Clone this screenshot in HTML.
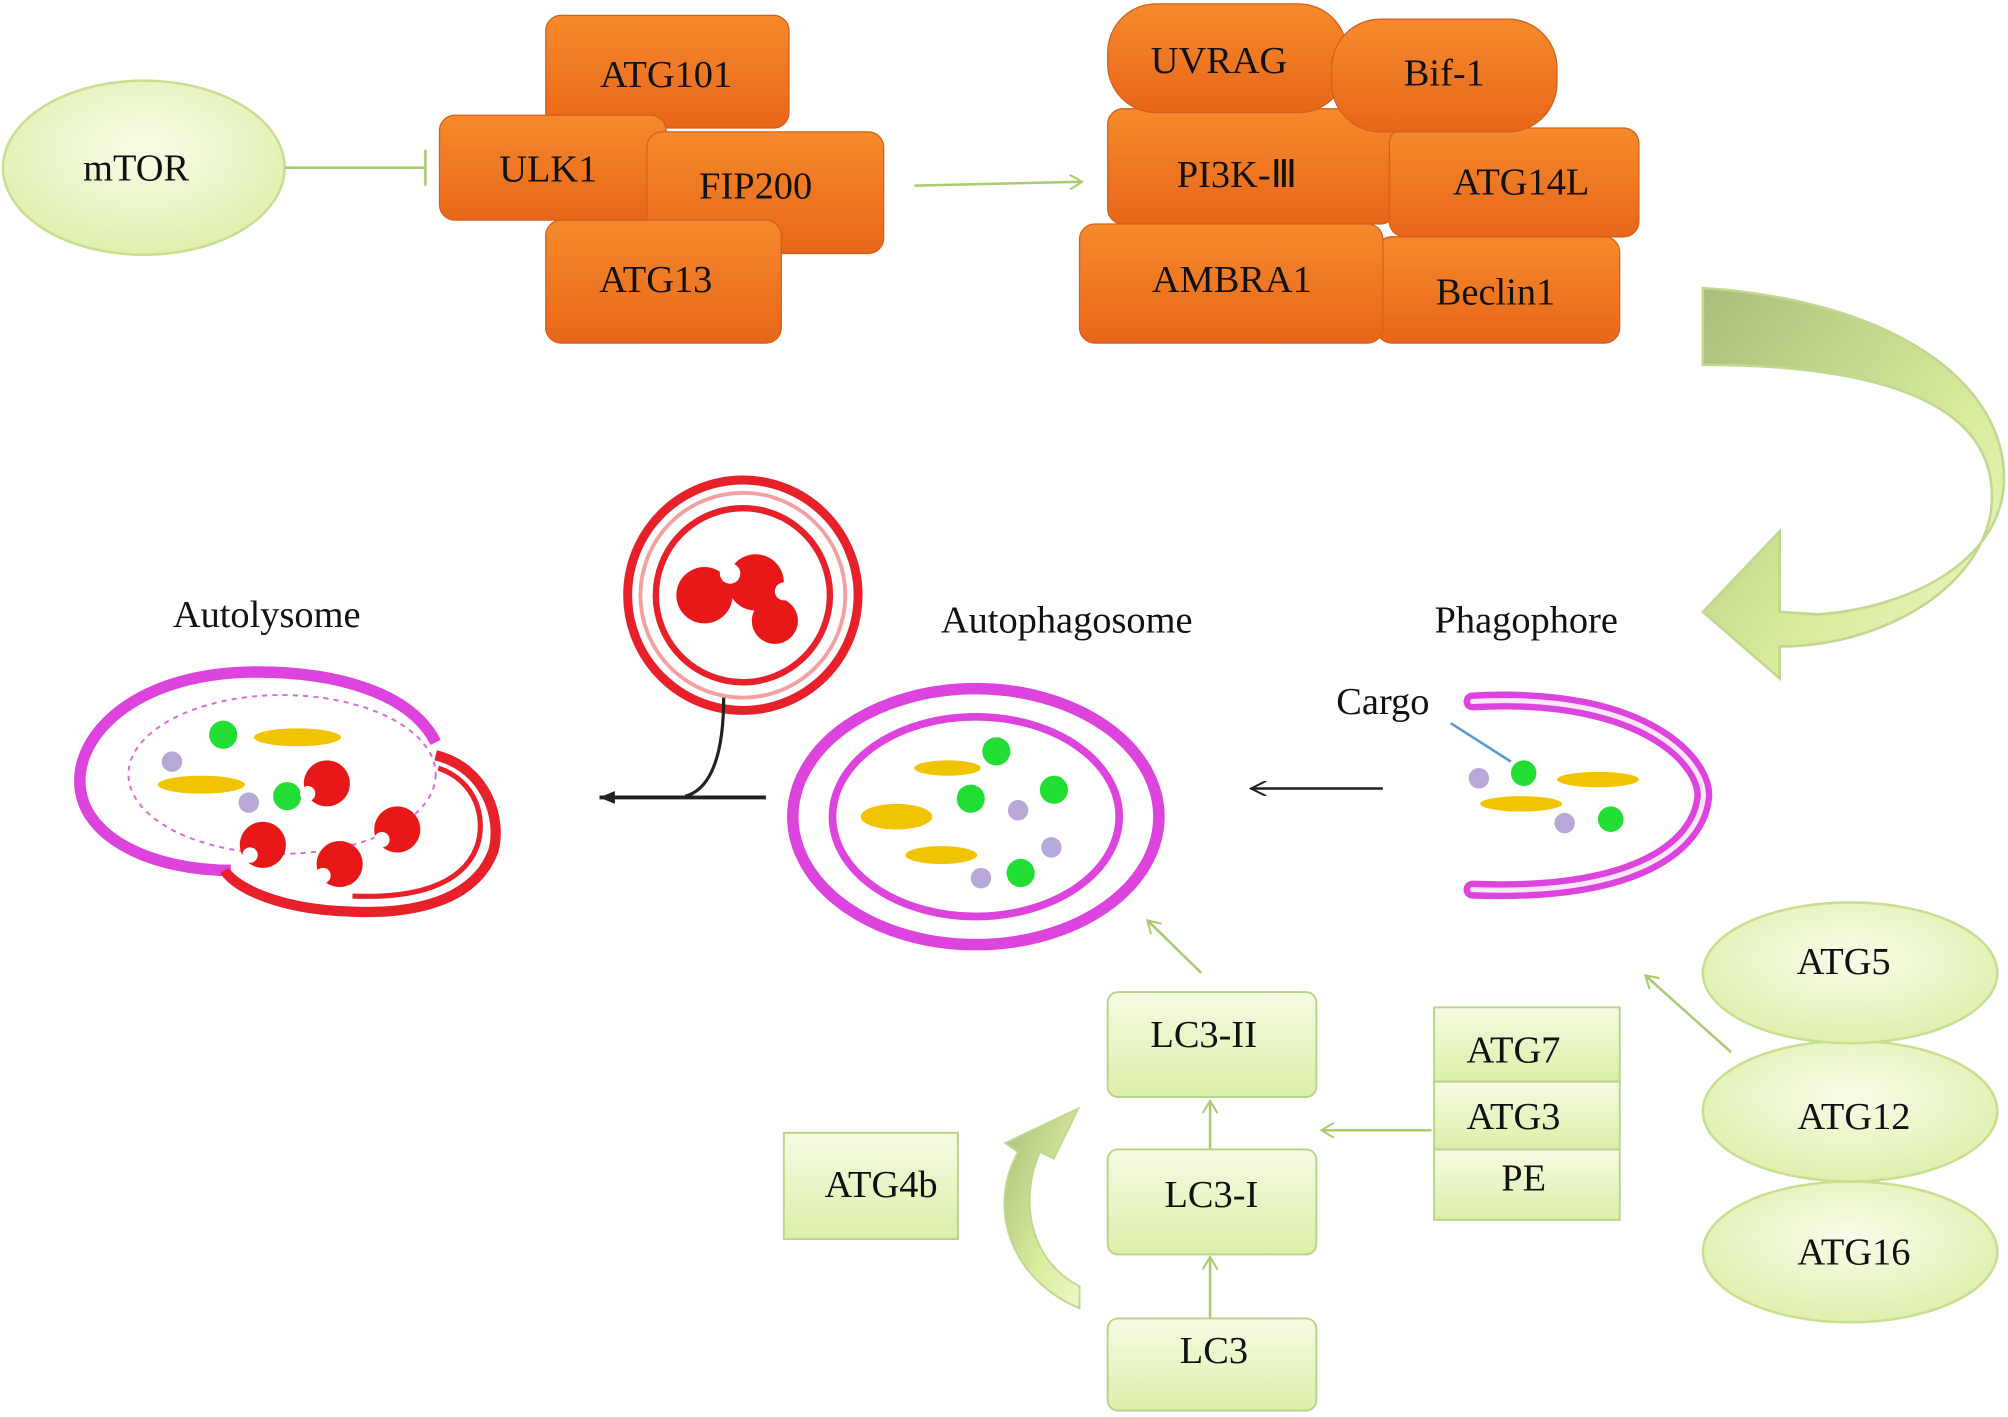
<!DOCTYPE html>
<html><head><meta charset="utf-8"><style>
html,body{margin:0;padding:0;background:#fff;}
svg{display:block;}
text{font-family:"Liberation Serif",serif;fill:#111;}
</style></head><body>
<svg width="2008" height="1417" viewBox="0 0 1568 1107" xmlns="http://www.w3.org/2000/svg">
<defs>
<linearGradient id="og" x1="0" y1="0" x2="0" y2="1"><stop offset="0" stop-color="#f58a2c"/><stop offset="1" stop-color="#e8661a"/></linearGradient>
<linearGradient id="gg" x1="0" y1="0" x2="0" y2="1"><stop offset="0" stop-color="#f6fbe3"/><stop offset="1" stop-color="#dcefa8"/></linearGradient>
<radialGradient id="eg" cx="0.5" cy="0.4" r="0.6"><stop offset="0" stop-color="#f8fce8"/><stop offset="1" stop-color="#dff0ae"/></radialGradient>
<linearGradient id="ag" x1="0" y1="0" x2="1" y2="1"><stop offset="0" stop-color="#a9bd7a"/><stop offset="0.6" stop-color="#d8ec9c"/><stop offset="1" stop-color="#eef8c8"/></linearGradient>
<marker id="ga" markerWidth="12" markerHeight="12" refX="10" refY="6" orient="auto" markerUnits="userSpaceOnUse"><path d="M0,0 L10,6 L0,12" fill="none" stroke="#a8cc70" stroke-width="1.6"/></marker>
<marker id="ba" markerWidth="14" markerHeight="12" refX="12" refY="6" orient="auto" markerUnits="userSpaceOnUse"><path d="M0,0 L12,6 L0,12" fill="none" stroke="#222" stroke-width="1.6"/></marker>
<marker id="bf" markerWidth="14" markerHeight="12" refX="12" refY="6" orient="auto" markerUnits="userSpaceOnUse"><path d="M0,1 L12,6 L0,11 Z" fill="#222"/></marker>
</defs>
<g font-size="30">
<ellipse cx="112" cy="131" rx="110" ry="68" fill="url(#eg)" stroke="#c8df90" stroke-width="2"/>
<text x="106" y="141" text-anchor="middle">mTOR</text>
<line x1="222" y1="131" x2="332" y2="131" stroke="#a8cc70" stroke-width="2"/>
<line x1="332" y1="117" x2="332" y2="145" stroke="#a8cc70" stroke-width="2"/>
<g fill="url(#og)" stroke="#d5601a" stroke-width="1">
<rect x="426" y="12" width="190" height="88" rx="12"/>
<rect x="343" y="90" width="177" height="82" rx="12"/>
<rect x="505" y="103" width="185" height="95" rx="12"/>
<rect x="426" y="172" width="184" height="96" rx="12"/>
</g>
<text x="520" y="68" text-anchor="middle">ATG101</text>
<text x="428" y="142" text-anchor="middle">ULK1</text>
<text x="590" y="155" text-anchor="middle">FIP200</text>
<text x="512" y="228" text-anchor="middle">ATG13</text>
<line x1="714" y1="145" x2="845" y2="142" stroke="#a8cc70" stroke-width="2" marker-end="url(#ga)"/>
<g fill="url(#og)" stroke="#d5601a" stroke-width="1">
<rect x="865" y="85" width="225" height="90" rx="12"/>
<rect x="1085" y="100" width="195" height="85" rx="12"/>
<rect x="1075" y="185" width="190" height="83" rx="12"/>
<rect x="843" y="175" width="237" height="93" rx="12"/>
<rect x="865" y="3" width="187" height="85" rx="38"/>
<rect x="1040" y="15" width="176" height="88" rx="38"/>
</g>
<text x="952" y="57" text-anchor="middle">UVRAG</text>
<text x="1128" y="67" text-anchor="middle">Bif-1</text>
<text x="966" y="146" text-anchor="middle">PI3K-Ⅲ</text>
<text x="1188" y="152" text-anchor="middle">ATG14L</text>
<text x="962" y="228" text-anchor="middle">AMBRA1</text>
<text x="1168" y="238" text-anchor="middle">Beclin1</text>
<path d="M1330,225 C1480,235 1570,300 1565,380 C1560,440 1490,475 1420,480 L1390,478 L1390,415 L1330,478 L1390,530 L1390,505 C1470,505 1545,460 1555,400 C1565,320 1480,285 1330,285 Z" fill="url(#ag)" stroke="#c0d890" stroke-width="2"/>
<text x="208" y="490" text-anchor="middle">Autolysome</text>
<text x="833" y="494" text-anchor="middle">Autophagosome</text>
<text x="1192" y="494" text-anchor="middle">Phagophore</text>
<text x="1080" y="558" text-anchor="middle">Cargo</text>
<path d="M1150,548 C1290,540 1335,600 1330,625 C1325,660 1280,700 1150,695" fill="none" stroke="#dd44dd" stroke-width="14" stroke-linecap="round"/>
<path d="M1150,548 C1290,540 1335,600 1330,625 C1325,660 1280,700 1150,695" fill="none" stroke="#fbe6fb" stroke-width="4" stroke-linecap="round"/>
<line x1="1133" y1="565" x2="1180" y2="595" stroke="#5b9bd5" stroke-width="2"/>
<circle cx="1190" cy="604" r="10" fill="#22dd33"/>
<circle cx="1258" cy="640" r="10" fill="#22dd33"/>
<circle cx="1155" cy="608" r="8" fill="#b8a8d8"/>
<circle cx="1222" cy="643" r="8" fill="#b8a8d8"/>
<ellipse cx="1248" cy="609" rx="32" ry="6" fill="#f2c400"/>
<ellipse cx="1188" cy="628" rx="32" ry="6" fill="#f2c400"/>
<line x1="1080" y1="616" x2="977" y2="616" stroke="#222" stroke-width="2" marker-end="url(#ba)"/>
<ellipse cx="762" cy="638" rx="143" ry="100" fill="none" stroke="#dd44dd" stroke-width="9"/>
<ellipse cx="762" cy="638" rx="112" ry="78" fill="none" stroke="#dd44dd" stroke-width="6"/>
<ellipse cx="700" cy="638" rx="28" ry="10" fill="#f2c400"/>
<ellipse cx="740" cy="600" rx="26" ry="6" fill="#f2c400"/>
<ellipse cx="735" cy="668" rx="28" ry="7" fill="#f2c400"/>
<circle cx="778" cy="587" r="11" fill="#22dd33"/>
<circle cx="758" cy="624" r="11" fill="#22dd33"/>
<circle cx="823" cy="617" r="11" fill="#22dd33"/>
<circle cx="797" cy="682" r="11" fill="#22dd33"/>
<circle cx="795" cy="633" r="8" fill="#b8a8d8"/>
<circle cx="821" cy="662" r="8" fill="#b8a8d8"/>
<circle cx="766" cy="686" r="8" fill="#b8a8d8"/>
<circle cx="580" cy="465" r="90" fill="#fff" stroke="#e8202a" stroke-width="7"/>
<circle cx="580" cy="465" r="80" fill="none" stroke="#f5a0a0" stroke-width="3"/>
<circle cx="580" cy="465" r="68" fill="none" stroke="#e8202a" stroke-width="5"/>
<g fill="#e81818">
<circle cx="550" cy="465" r="22"/><circle cx="590" cy="455" r="22"/><circle cx="605" cy="485" r="18"/>
</g>
<g fill="#fff"><circle cx="570" cy="448" r="8"/><circle cx="575" cy="480" r="7"/><circle cx="612" cy="462" r="7"/></g>
<path d="M565,545 C565,600 550,618 535,622" fill="none" stroke="#222" stroke-width="2.5"/>
<line x1="598" y1="623" x2="468" y2="623" stroke="#222" stroke-width="3" marker-end="url(#bf)"/>
<path d="M340,580 C320,540 260,525 200,525 C110,525 62,570 62,610 C62,655 120,680 180,680" fill="none" stroke="#dd44dd" stroke-width="9"/>
<path d="M340,590 C380,600 392,640 385,665 C370,705 320,715 270,712 C220,710 185,695 175,680" fill="none" stroke="#e8202a" stroke-width="8"/>
<path d="M342,600 C372,610 380,640 372,662 C360,693 320,702 275,700" fill="none" stroke="#e8202a" stroke-width="4"/>
<ellipse cx="220" cy="605" rx="120" ry="62" fill="none" stroke="#dd66dd" stroke-width="1.5" stroke-dasharray="4,4"/>
<ellipse cx="232" cy="576" rx="34" ry="7" fill="#f2c400"/>
<ellipse cx="157" cy="613" rx="34" ry="7" fill="#f2c400"/>
<circle cx="174" cy="574" r="11" fill="#22dd33"/>
<circle cx="224" cy="622" r="11" fill="#22dd33"/>
<circle cx="134" cy="595" r="8" fill="#b8a8d8"/>
<circle cx="194" cy="627" r="8" fill="#b8a8d8"/>
<g fill="#e81818"><circle cx="255" cy="612" r="18"/><circle cx="310" cy="648" r="18"/><circle cx="205" cy="660" r="18"/><circle cx="265" cy="675" r="18"/></g>
<g fill="#fff"><circle cx="240" cy="620" r="6"/><circle cx="298" cy="656" r="6"/><circle cx="195" cy="668" r="6"/><circle cx="252" cy="684" r="6"/></g>
<g fill="url(#gg)" stroke="#b8d488" stroke-width="1.5">
<rect x="865" y="775" width="163" height="82" rx="8"/>
<rect x="865" y="898" width="163" height="82" rx="8"/>
<rect x="865" y="1030" width="163" height="72" rx="8"/>
<rect x="612" y="885" width="136" height="83"/>
<rect x="1120" y="787" width="145" height="58"/>
<rect x="1120" y="845" width="145" height="53"/>
<rect x="1120" y="898" width="145" height="55"/>
</g>
<text x="940" y="818" text-anchor="middle">LC3-II</text>
<text x="946" y="943" text-anchor="middle">LC3-I</text>
<text x="948" y="1065" text-anchor="middle">LC3</text>
<text x="688" y="935" text-anchor="middle">ATG4b</text>
<text x="1182" y="830" text-anchor="middle">ATG7</text>
<text x="1182" y="882" text-anchor="middle">ATG3</text>
<text x="1190" y="930" text-anchor="middle">PE</text>
<g fill="url(#eg)" stroke="#c8df90" stroke-width="2">
<ellipse cx="1445" cy="978" rx="115" ry="55"/>
<ellipse cx="1445" cy="868" rx="115" ry="55"/>
<ellipse cx="1445" cy="760" rx="115" ry="55"/>
</g>
<text x="1440" y="761" text-anchor="middle">ATG5</text>
<text x="1448" y="882" text-anchor="middle">ATG12</text>
<text x="1448" y="988" text-anchor="middle">ATG16</text>
<g stroke="#a8cc70" stroke-width="2" fill="none" marker-end="url(#ga)">
<line x1="1352" y1="822" x2="1285" y2="762"/>
<line x1="1118" y1="883" x2="1032" y2="883"/>
<line x1="945" y1="1030" x2="945" y2="982"/>
<line x1="945" y1="898" x2="945" y2="860"/>
<line x1="938" y1="760" x2="896" y2="719"/>
</g>
<path d="M843,1022 C790,1000 770,945 795,900 L785,893 L842,866 L823,905 L812,900 C795,940 805,985 843,1005 Z" fill="url(#ag)" stroke="#c0d890" stroke-width="1.5"/>
</g>
</svg>
</body></html>
